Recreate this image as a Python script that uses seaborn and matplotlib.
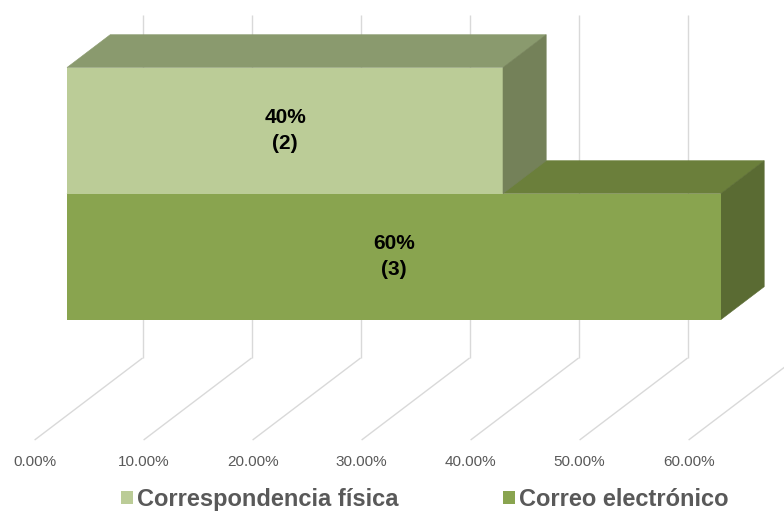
import matplotlib
matplotlib.use("Agg")
import matplotlib.pyplot as plt
import seaborn as sns
import pandas as pd
from matplotlib.patches import Polygon

# ---- data ----
medios = ["Correspondencia física", "Correo electrónico"]
porcentajes = [40, 60]
cantidades = [2, 3]
ticks = [0, 10, 20, 30, 40, 50, 60]
tick_labels = ["0.00%", "10.00%", "20.00%", "30.00%", "40.00%", "50.00%", "60.00%"]

# ---- styles ----
front_colors = ["#BBCC97", "#89A44F"]
top_colors = ["#8A9A6E", "#6B7F3B"]
side_colors = ["#748159", "#5A6B33"]
grid_color = "#D9D9D9"
text_gray = "#595959"

sns.set_theme(style="white")
plt.rcParams["font.family"] = ["Liberation Sans Narrow", "Liberation Sans", "DejaVu Sans"]

df = pd.DataFrame({"medio": medios, "pct": porcentajes})

fig = plt.figure(figsize=(7.84, 5.15), dpi=100)
ax = fig.add_axes([0, 0, 1, 1])

sns.barplot(data=df, x="pct", y="medio", hue="medio", palette=front_colors,
            width=1.0, orient="h", saturation=1, linewidth=0, ax=ax, legend=True)
for p in ax.patches:
    p.set_zorder(3)

# pixel-derived axis frame (1% = 10.9 px, one category = 126 px)
ax.set_xlim(-67 / 10.9, (784 - 67) / 10.9)
ax.set_ylim((515 - 130.5) / 126, -130.5 / 126)

# oblique depth projection
DX = 108 / 10.9      # full depth, x (in % units)
DY = -82 / 126       # full depth, y (category units)
F_BAR, B_BAR = 0.3, 0.7
bdx = (B_BAR - F_BAR) * DX
bdy = (B_BAR - F_BAR) * DY
floor_back = (358 - 130.5) / 126
wall_top = (15 - 130.5) / 126
floor_front = floor_back - DY

# walls / floor gridlines
for t in ticks:
    xb = t + (1 - F_BAR) * DX
    xf = t - F_BAR * DX
    ax.plot([xb, xb], [wall_top, floor_back], color=grid_color, lw=1.0, zorder=1,
            solid_capstyle="butt")
    ax.plot([xb, xf], [floor_back, floor_front], color=grid_color, lw=1.0, zorder=1,
            solid_capstyle="butt")

label_y = (462 - 130.5) / 126
for t, lab in zip(ticks, tick_labels):
    ax.text(t - F_BAR * DX, label_y, lab, ha="center", va="center",
            fontsize=11, color=text_gray)

# 3D top & side faces of bars
for i, (v, tc, sc) in enumerate(zip(porcentajes, top_colors, side_colors)):
    y0 = i - 0.5
    y1 = i + 0.5
    z = 4 if i == 0 else 2
    top = Polygon([(0, y0), (v, y0), (v + bdx, y0 + bdy), (bdx, y0 + bdy)],
                  closed=True, facecolor=tc, edgecolor=tc, lw=0.4, zorder=z)
    side = Polygon([(v, y0), (v + bdx, y0 + bdy), (v + bdx, y1 + bdy), (v, y1)],
                   closed=True, facecolor=sc, edgecolor=sc, lw=0.4, zorder=z)
    ax.add_patch(top)
    ax.add_patch(side)

# data labels
for i, (v, c) in enumerate(zip(porcentajes, cantidades)):
    ax.text(v / 2, i, f"{v}%\n({c})", ha="center", va="center", fontsize=15,
            fontweight="bold", color="black", linespacing=1.5,
            family=["Liberation Sans", "DejaVu Sans"], zorder=6)

ax.axis("off")

sns.move_legend(ax, "center", bbox_to_anchor=(0.542, 0.03), ncol=2, frameon=False,
                title=None, prop={"weight": "bold", "size": 17},
                handlelength=0.51, handleheight=0.51, handletextpad=0.17,
                columnspacing=4.4, borderpad=0.1)
leg = ax.get_legend()
for txt in leg.get_texts():
    txt.set_color(text_gray)

fig.savefig("out.png", dpi=100)
